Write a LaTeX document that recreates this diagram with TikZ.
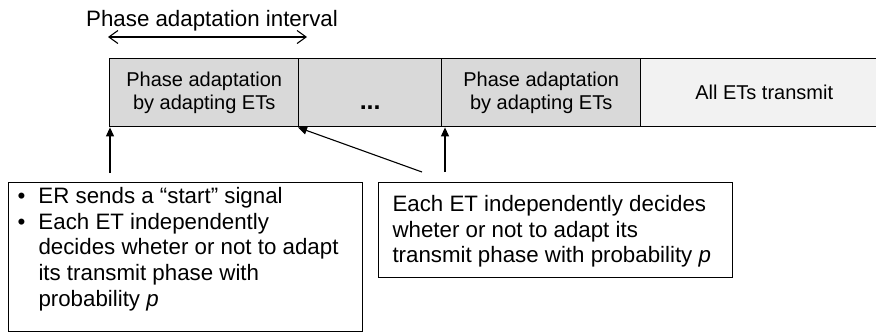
\documentclass[tikz,border=0pt]{standalone}
\usepackage{fontspec}
\setmainfont{Liberation Sans}
\usetikzlibrary{arrows.meta}
\definecolor{cellgray}{HTML}{D9D9D9}
\definecolor{celllight}{HTML}{F2F2F2}
\tikzset{
  cell/.style={draw, line width=1.4pt, anchor=north west, minimum height=68pt,
    inner sep=0pt, align=center, font=\fontsize{20}{22.5}\selectfont},
  note/.style={draw, line width=1pt, anchor=north west, inner xsep=0pt, inner ysep=0pt,
    font=\fontsize{22.3}{25.7}\selectfont},
  conn/.style={line width=1.1pt, -{Triangle[length=9pt,width=8pt]}},
  span/.style={line width=1.1pt, {Straight Barb[length=9pt,width=13pt]}-{Straight Barb[length=9pt,width=13pt]}}
}
\newcommand{\bul}{\makebox[21pt][l]{\textbullet}}
\begin{document}
\begin{tikzpicture}[x=1pt,y=-1pt]
\useasboundingbox (0,0) rectangle (876,333);

% interval label and its span arrow
\node[anchor=base west, inner sep=0pt, font=\fontsize{22.3}{25}\selectfont] (intlbl) at (86,26) {Phase adaptation interval};
\coordinate (ia) at (108,37);
\coordinate (ib) at (307,37);
\draw[span] (ia) -- (ib);

% the time line
\node[cell, fill=cellgray, minimum width=189pt] (c1) at (109,58) {Phase adaptation\\by adapting ETs};
\node[cell, fill=cellgray, minimum width=143pt, text height=34pt, text depth=0pt,
  font=\fontsize{25}{25}\selectfont\bfseries] (c2) at (298,58) {...};
\node[cell, fill=cellgray, minimum width=199pt] (c3) at (441,58) {Phase adaptation\\by adapting ETs};
\node[cell, fill=celllight, minimum width=247pt] (c4) at (640,58) {All ETs transmit};

% explanation boxes
\node[note, inner xsep=9pt, inner ysep=3pt] (n1) at (8,182) {%
\begin{minipage}[t][143pt][t]{336pt}\setlength{\parindent}{0pt}\raggedright
\strut\bul ER sends a “start” signal\\
\bul Each ET independently\\
\hspace*{21pt}decides wheter or not to adapt\\
\hspace*{21pt}its transmit phase with\\
\hspace*{21pt}probability \textit{p}
\end{minipage}};
\node[note, inner xsep=14pt, inner ysep=11pt] (n2) at (378,182) {%
\begin{minipage}[t][73pt][t]{326pt}\setlength{\parindent}{0pt}\raggedright
\strut Each ET independently decides\\
wheter or not to adapt its\\
transmit phase with probability \textit{p}
\end{minipage}};

% connectors
\coordinate (s1) at (110,173);
\coordinate (s2) at (445,172);
\coordinate (s3) at (422,172);
\draw[conn] (s1) -- (s1 |- c1.south);
\draw[conn] (s2) -- (s2 |- c3.south);
\draw[conn] (s3) -- (c2.south west);
\end{tikzpicture}
\end{document}
